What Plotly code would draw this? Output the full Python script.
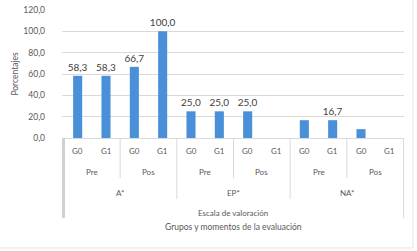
import plotly.graph_objects as go

# ---- data ----
scales = ["A*", "A*", "A*", "A*", "EP*", "EP*", "EP*", "EP*", "NA*", "NA*", "NA*", "NA*"]
moments = ["Pre", "Pre", "Pos", "Pos", "Pre", "Pre", "Pos", "Pos", "Pre", "Pre", "Pos", "Pos"]
groups = ["G0", "G1", "G0", "G1", "G0", "G1", "G0", "G1", "G0", "G1", "G0", "G1"]
values = [58.3, 58.3, 66.7, 100.0, 25.0, 25.0, 25.0, 0.0, 16.7, 16.7, 8.3, 0.0]
show_label = [True, True, True, True, True, True, True, False, False, True, False, False]
y_title = "Porcentajes"
x_title_1 = "Escala de valoración"
x_title_2 = "Grupos y momentos de la evaluación"

cats = [f"{s}|{m}|{g}" for s, m, g in zip(scales, moments, groups)]
texts = [f"{v:.1f}".replace(".", ",") if sh else "" for v, sh in zip(values, show_label)]

FONT = "Lato"
BLUE = "#4a90d9"
TXT = "#595959"
GRID = "#d9d9d9"

fig = go.Figure(go.Bar(
    x=cats, y=values, marker=dict(color=BLUE, line=dict(width=0)),
    width=0.32, text=texts, textposition="outside", cliponaxis=False,
    constraintext="none",
    textfont=dict(family=FONT, size=10, color="#404040"),
))

W, HT = 417, 251
PLOT_L, PLOT_R, PLOT_T, PLOT_B = 62, 404, 10, 138
L, R, T, B = PLOT_L, W - PLOT_R, PLOT_T, HT - PLOT_B
H = PLOT_B - PLOT_T


def py(px):
    return (PLOT_B - px) / H


annotations = []
shapes = []
n = len(cats)
# level 1: groups
for i, g in enumerate(groups):
    annotations.append(dict(x=i, y=py(151), xref="x", yref="paper", text=g, showarrow=False,
                            font=dict(family=FONT, size=8, color=TXT), yanchor="middle"))
# level 2: moments
i = 0
while i < n:
    j = i
    while j + 1 < n and moments[j + 1] == moments[i] and scales[j + 1] == scales[i]:
        j += 1
    annotations.append(dict(x=(i + j) / 2, y=py(172), xref="x", yref="paper", text=moments[i],
                            showarrow=False, font=dict(family=FONT, size=8, color=TXT), yanchor="middle"))
    if j + 1 < n and scales[j + 1] == scales[i]:
        shapes.append(dict(type="line", xref="x", yref="paper", x0=j + 0.5, x1=j + 0.5,
                           y0=0, y1=py(178), line=dict(color=GRID, width=1)))
    i = j + 1
# level 3: scales
i = 0
while i < n:
    j = i
    while j + 1 < n and scales[j + 1] == scales[i]:
        j += 1
    annotations.append(dict(x=(i + j) / 2, y=py(193), xref="x", yref="paper", text=scales[i],
                            showarrow=False, font=dict(family=FONT, size=8, color=TXT), yanchor="middle"))
    if j + 1 < n:
        shapes.append(dict(type="line", xref="x", yref="paper", x0=j + 0.5, x1=j + 0.5,
                           y0=0, y1=py(199), line=dict(color=GRID, width=1)))
    i = j + 1
# outer edges
shapes.append(dict(type="line", xref="x", yref="paper", x0=-0.5, x1=-0.5, y0=0, y1=py(218),
                   line=dict(color="#d0d0d0", width=3)))
shapes.append(dict(type="line", xref="x", yref="paper", x0=n - 0.5, x1=n - 0.5, y0=0, y1=py(218),
                   line=dict(color=GRID, width=1)))
# chart border
shapes.append(dict(type="rect", xref="paper", yref="paper", x0=-0.5,
                   x1=(413 - PLOT_L) / (PLOT_R - PLOT_L),
                   y0=py(248), y1=2, line=dict(color="#e3e3e3", width=1)))

annotations.append(dict(x=0.5, y=py(213), xref="paper", yref="paper", text=x_title_1, showarrow=False,
                        font=dict(family=FONT, size=8, color=TXT), yanchor="middle"))
annotations.append(dict(x=0.5, y=py(227), xref="paper", yref="paper", text=x_title_2, showarrow=False,
                        font=dict(family=FONT, size=8.5, color=TXT), yanchor="middle"))

fig.update_layout(
    width=W, height=HT, margin=dict(l=L, r=R, t=T, b=B, autoexpand=False),
    paper_bgcolor="white", plot_bgcolor="white",
    separators=",.", showlegend=False,
    font=dict(family=FONT, color=TXT),
    annotations=annotations, shapes=shapes,
    xaxis=dict(type="category", showticklabels=False, showgrid=False, zeroline=False,
               showline=True, linecolor=GRID, linewidth=1, ticks="", automargin=False),
    yaxis=dict(range=[0, 120], dtick=20, tickformat=".1f", showgrid=True, gridcolor=GRID,
               gridwidth=1, zeroline=False, showline=False, ticks="", automargin=False,
               ticklabelstandoff=16, ticklabeloverflow="allow",
               tickfont=dict(family=FONT, size=8.5, color=TXT),
               title=dict(text=y_title, font=dict(family=FONT, size=8.5, color=TXT), standoff=3)),
)

fig.write_html("out.html", config={"displayModeBar": False},
               post_script="document.body.style.margin='0';")
